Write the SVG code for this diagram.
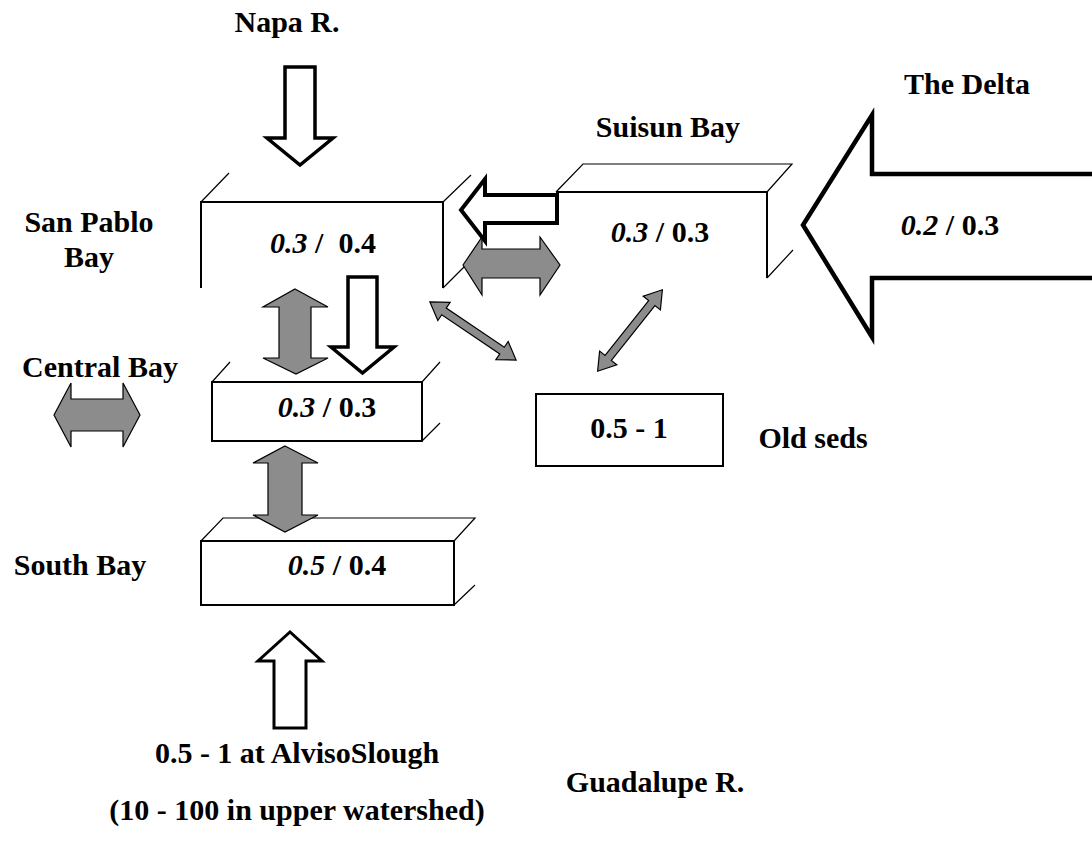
<svg xmlns="http://www.w3.org/2000/svg" width="1092" height="848" viewBox="0 0 1092 848">
<style>
text{font-family:"Liberation Serif","Times New Roman",serif;font-weight:bold;font-size:30px;fill:#000}
.m{text-anchor:middle}
.i{font-style:italic}
.edge{fill:none;stroke:#000;stroke-width:2}
.dg{fill:none;stroke:#000;stroke-width:1.2}
.gray{fill:#8c8c8c;stroke:#000;stroke-width:1.2;stroke-linejoin:miter}
.white{fill:#fff;stroke:#000;stroke-linejoin:miter}
</style>
<rect width="1092" height="848" fill="#fff"/>
<defs>
<path id="thin" d="M-52,0 L-35,-11 L-35,-4 L35,-4 L35,-11 L52,0 L35,11 L35,4 L-35,4 L-35,11 Z"/>
</defs>

<g id="san-pablo">
<path class="edge" d="M201,288 V202 H443 V288"/>
<path class="dg" d="M201,202 L229,173 M443,202 L471,175 M443,288 L471,260"/>
<text class="m" x="323" y="253" xml:space="preserve"><tspan class="i">0.3</tspan> /  0.4</text>
</g>
<g id="suisun">
<path class="edge" d="M556,192 H767 V278"/>
<path class="dg" d="M556,192 L583,164 H792 L767,192 M767,278 L793,250"/>
<text class="m" x="660" y="242"><tspan class="i">0.3</tspan> / 0.3</text>
</g>
<g id="central">
<path class="edge" d="M212,382 H422 V441 H212 Z"/>
<path class="dg" d="M212,382 L230,362 M422,382 L440,362 M422,441 L440,423"/>
<text class="m" x="327" y="417"><tspan class="i">0.3</tspan> / 0.3</text>
</g>
<g id="south">
<path class="edge" d="M201,541 H454 V605 H201 Z"/>
<path class="dg" d="M201,541 L223,518 H475 L454,541 M454,605 L475,585"/>
<text class="m" x="337" y="575"><tspan class="i">0.5</tspan> / 0.4</text>
</g>
<g id="old-seds">
<rect class="edge" x="536" y="394" width="187" height="72"/>
<text class="m" x="629" y="438">0.5 - 1</text>
</g>
<g id="delta">
<path class="white" stroke-width="4.5" d="M1100,174 H872 V115 L803,225 L872,337 V278 H1100"/>
<text class="m" x="950" y="235"><tspan class="i">0.2</tspan> / 0.3</text>
</g>

<g id="labels">
<text class="m" x="287" y="32">Napa R.</text>
<text class="m" x="967" y="94">The Delta</text>
<text class="m" x="668" y="137">Suisun Bay</text>
<text class="m" x="89" y="232">San Pablo</text>
<text class="m" x="89" y="267">Bay</text>
<text class="m" x="100" y="377">Central Bay</text>
<text class="m" x="80" y="575">South Bay</text>
<text class="m" x="813" y="448">Old seds</text>
<text class="m" x="297" y="763">0.5 - 1 at AlvisoSlough</text>
<text class="m" x="655" y="792">Guadalupe R.</text>
<text class="m" x="297" y="820">(10 - 100 in upper watershed)</text>
</g>

<g id="connectors">
<path class="white" stroke-width="3.5" d="M285,67 H315 V138 H333 L300,165 L267,138 H285 Z"/>
<path class="white" stroke-width="3.5" d="M348,277 H377 V347 H394 L362.5,373 L331,347 H348 Z"/>
<path class="white" stroke-width="4" d="M557,195 H485 V179 L461,210 L485,241 V223 H557 Z"/>
<path class="white" stroke-width="3" d="M274,728 H306 V661 H322 L290,632 L258,661 H274 Z"/>
<path class="gray" d="M54,415 L71,383 V399 H123 V383 L140,415 L123,447 V431 H71 V447 Z"/>
<path class="gray" d="M463,265 L482,237 V249 H540 V237 L560,265 L540,295 V278 H482 V295 Z"/>
<path class="gray" d="M295,289 L328,307 H311 V358 H328 L296,374 L263,358 H279 V307 H263 Z"/>
<path class="gray" d="M285,446 L318,463 H302 V515 H318 L285,532 L253,515 H268 V463 H253 Z"/>
<use href="#thin" class="gray" transform="translate(473,331) rotate(34)"/>
<use href="#thin" class="gray" transform="translate(630,330.5) rotate(-51.5)"/>
</g>
</svg>
